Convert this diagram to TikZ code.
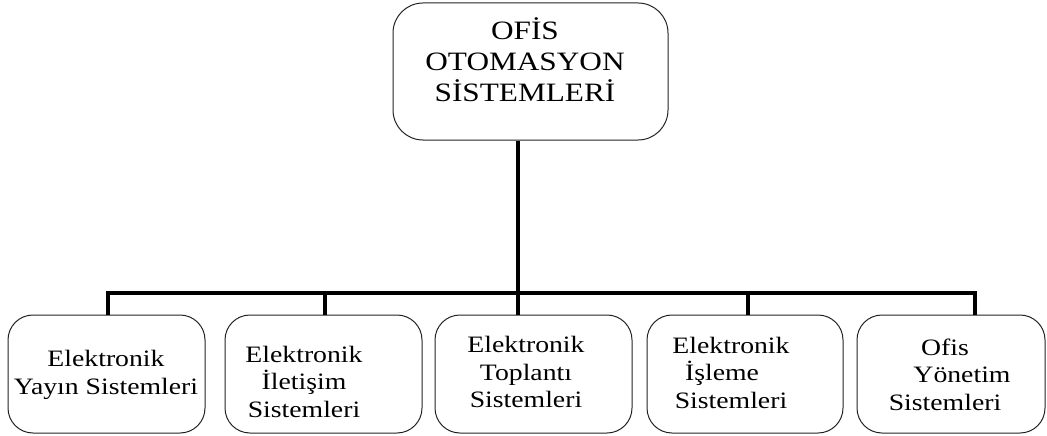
\documentclass[tikz,border=0pt]{standalone}
\usepackage{fontspec}
\setmainfont{Liberation Serif}[FakeStretch=1.18]
\usepackage{tikz}
\definecolor{kutucizgi}{RGB}{35,35,35}

\begin{document}
\begin{tikzpicture}[x=1pt, y=-1pt,
    kutu/.style={draw=kutucizgi, line width=1pt, rounded corners=25pt, inner sep=0pt},
    yazi/.style={align=center, inner sep=0pt, font=\fontsize{23.5}{27.5}\selectfont},
    bag/.style={line width=4pt}]
    \useasboundingbox (0,0) rectangle (1047,436);

    % Top box
    \node[kutu, rounded corners=30pt, minimum width=275pt, minimum height=137pt] (ust) at (530.5,71.5) {};
    \node[yazi, font=\fontsize{26.5}{31}\selectfont] (ustyazi) at (525,60) {OFİS\\OTOMASYON\\SİSTEMLERİ};

    % Lower boxes
    \foreach \n/\x/\w in {1/106.5/197, 2/323.5/197, 3/533.5/197, 4/745/196, 5/951/188} {
        \node[kutu, minimum width=\w pt, minimum height=118pt] (b\n) at (\x,374) {};
    }

    % Box texts
    \node[yazi] (t1) at (106,375) {Elektronik\\Yayın Sistemleri};
    \node[yazi] (t2) at (304,381.5) {Elektronik\\İletişim\\Sistemleri};
    \node[yazi] (t3) at (526,372) {Elektronik\\Toplantı\\Sistemleri};
    \node[yazi] (t4) at (731,372.5) {Elektronik\\İşleme\kern18pt\null\\Sistemleri};
    \node[yazi] (t5) at (945,374.5) {Ofis\\\null\kern34pt Yönetim\\Sistemleri};

    % Bus points
    \foreach \n/\x in {1/108, 2/325, 3/518, 4/748, 5/975}
        \coordinate (k\n) at (\x,293);

    % Connectors
    \draw[bag] (k1 |- b1.north) -- (k1) -- (k5) -- (k5 |- b5.north);
    \foreach \n in {2,4}
        \draw[bag] (k\n) -- (k\n |- b\n.north);
    \draw[bag] (k3 |- ust.south) -- (k3 |- b3.north);
\end{tikzpicture}
\end{document}
